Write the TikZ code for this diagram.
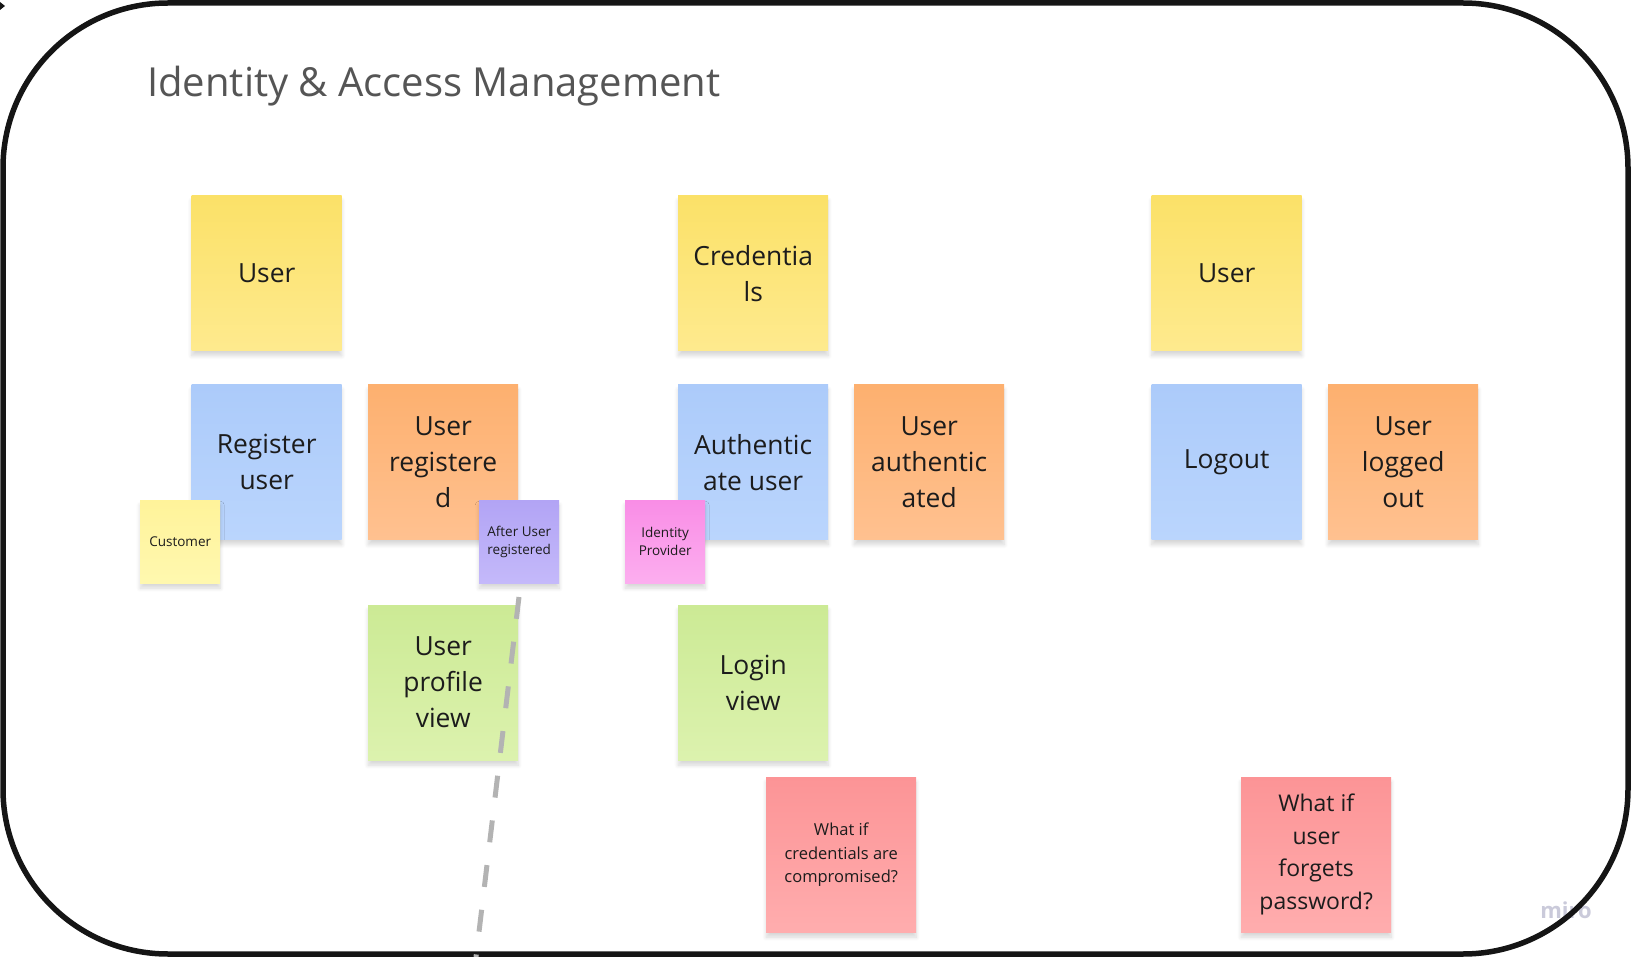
\documentclass[tikz,border=0pt]{standalone}
\usepackage{fontspec}
\setmainfont{Open Sans}
\usetikzlibrary{shadows.blur}

\definecolor{inktext}{HTML}{1C1C1C}
\definecolor{titlegray}{HTML}{555555}
\definecolor{frameblack}{HTML}{151515}
\definecolor{divgray}{HTML}{B3B3B3}
\definecolor{mirogray}{HTML}{CACADA}
\definecolor{aggtop}{HTML}{FBE168}
\definecolor{aggbot}{HTML}{FEEA8E}
\definecolor{cmdtop}{HTML}{ACCBFA}
\definecolor{cmdbot}{HTML}{BAD5FD}
\definecolor{evttop}{HTML}{FDB06F}
\definecolor{evtbot}{HTML}{FFC190}
\definecolor{viewtop}{HTML}{CCEA95}
\definecolor{viewbot}{HTML}{DCF2AE}
\definecolor{actortop}{HTML}{FFF39A}
\definecolor{actorbot}{HTML}{FFF8AF}
\definecolor{policytop}{HTML}{B2A4F5}
\definecolor{policybot}{HTML}{C4B9FA}
\definecolor{exttop}{HTML}{F98DE6}
\definecolor{extbot}{HTML}{FCAEEF}
\definecolor{hottop}{HTML}{FC9496}
\definecolor{hotbot}{HTML}{FFADAE}

\tikzset{
  sticky/.style={anchor=north west, minimum width=150pt, minimum height=155pt,
    inner sep=0pt, align=center, text=inktext,
    font=\fontsize{26.4}{36}\selectfont,
    blur shadow={shadow xshift=0pt, shadow yshift=-5pt,
      shadow blur radius=4pt, shadow blur steps=8, shadow opacity=16}},
  mini/.style={sticky, minimum width=80pt, minimum height=83pt,
    font=\fontsize{13.5}{18}\selectfont},
  aggregate/.style={sticky, top color=aggtop, bottom color=aggbot},
  command/.style={sticky, top color=cmdtop, bottom color=cmdbot},
  event/.style={sticky, top color=evttop, bottom color=evtbot},
  readmodel/.style={sticky, top color=viewtop, bottom color=viewbot},
  hotspot/.style={sticky, top color=hottop, bottom color=hotbot},
  actor/.style={mini, top color=actortop, bottom color=actorbot},
  policy/.style={mini, top color=policytop, bottom color=policybot},
  extsys/.style={mini, top color=exttop, bottom color=extbot},
  divider/.style={draw=divgray, line width=5pt, dash pattern=on 22pt off 23pt}
}

\begin{document}
\begin{tikzpicture}[x=1pt, y=-1pt]
  \useasboundingbox (0,0) rectangle (1631,957);
  % watermark and board frame
  \node[font=\bfseries\fontsize{22}{22}\selectfont, text=mirogray] (miro) at (1566,910) {miro};
  \draw[frameblack, line width=5.5pt, rounded corners=165pt] (3,3) rectangle (1628,954);
  \fill[frameblack] (0,2) -- (5,6) -- (0,10) -- cycle;
  % title
  \node[anchor=base west, font=\fontsize{40}{48}\selectfont, text=titlegray, inner sep=0pt]
    (title) at (147,97) {Identity \& Access Management};

  % registration
  \node[aggregate] (user1) at (191.5,195.5) {User};
  \node[command] (reguser) at (191.5,384.5) {Register\\user};
  \node[event] (regd) at (368,384.5) {User\\registere\\d};
  \node[actor] (customer) at (140,500) {Customer};
  \node[policy] (afterreg) at (479,500) {After User\\registered};
  \node[readmodel] (profview) at (368,605) {User\\profile\\view};

  % authentication
  \node[aggregate] (creds) at (678,195.5) {Credentia\\ls};
  \node[command] (authuser) at (678,384.5) {Authentic\\ate user};
  \node[event] (authd) at (854,384.5) {User\\authentic\\ated};
  \node[extsys] (idp) at (625,500) {Identity\\Provider};
  \node[readmodel] (loginview) at (678,605) {Login\\view};
  \node[hotspot, font=\fontsize{16.5}{23.3}\selectfont] (credhot) at (766,777)
    {What if\\credentials are\\compromised?};

  % logout
  \node[aggregate] (user2) at (1151.5,195.5) {User};
  \node[command] (logout) at (1151.5,384.5) {Logout};
  \node[event] (loggedout) at (1328,384.5) {User\\logged\\out};
  \node[hotspot, font=\fontsize{23}{32.5}\selectfont] (pwdhot) at (1241,777)
    {What if\\user\\forgets\\password?};

  % boundary between registration and authentication
  \coordinate (divtop) at (519,597);
  \coordinate (divbot) at (476,957);
  \draw[divider] (divtop) -- (divbot);
\end{tikzpicture}
\end{document}
